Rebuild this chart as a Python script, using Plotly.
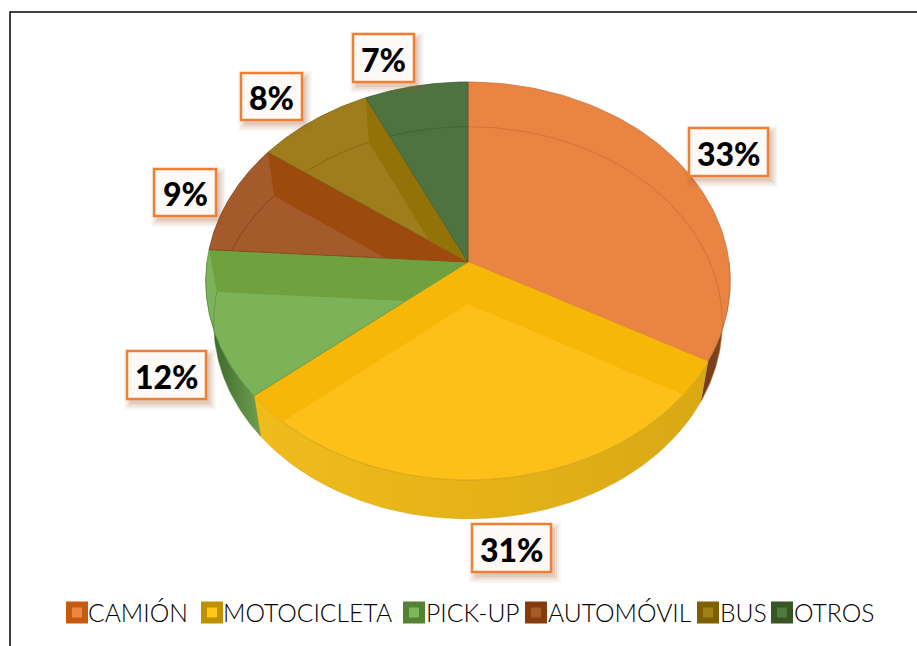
import numpy as np
import plotly.graph_objects as go

categories = ["CAMIÓN", "MOTOCICLETA", "PICK-UP", "AUTOMÓVIL", "BUS", "OTROS"]
values = [33, 31, 12, 9, 8, 7]

face_colors = ["#E98442", "#FDC018", "#7CB358", "#A45A2A", "#A07D1C", "#4E7340"]
band_colors = ["#E98442", "#F7B708", "#6FA23E", "#9C4A0E", "#937208", "#4E7340"]
edge_colors = ["#C9703A", "#D3A21E", "#5F8F45", "#7E431C", "#7A6318", "#3F5F34"]
swatch_border = ["#C55A11", "#BF9000", "#548235", "#843C0C", "#7F6000", "#375623"]
swatch_fill = ["#ED8843", "#FFC61A", "#7FB85A", "#A55A2C", "#A08018", "#4E7A3E"]
wall_stops = [
    ("#8A4A22", "#6E3A1C"),
    ("#D9A814", "#F0BC1C"),
    ("#6E9F50", "#36602A"),
    ("#7E431C", "#7E431C"),
    ("#7A6318", "#7A6318"),
    ("#3F5F34", "#3F5F34"),
]

# layout of the projected pie (pixels of the 917x646 canvas)
CX, CY, A, B, K = 468.0, 262.0, 261.0, 197.2, 0.0955
DEPTH, SX, SY = 42.0, 0.97, 0.985

label_boxes = [(689, 128, 768, 176), (472, 524, 551, 572), (127, 351, 206, 399),
               (154, 169, 216, 216), (241, 73, 302, 120), (353, 34, 414, 82)]
legend_swatch_x = [77, 212, 414, 536, 708, 782]
legend_text_x = [86, 221, 424, 546, 718, 792]
LEGEND_Y = 612


def top(t):
    t = np.radians(t)
    u, v = np.sin(t), np.cos(t)
    d = 1 + K * v
    return CX + A * u / d, CY - B * v / d


def bot(t):
    x, y = top(t)
    return CX + (x - CX) * SX, CY + DEPTH + (y - CY) * SY


def clip(poly, hull):
    """Clip a polygon against a convex polygon (Sutherland-Hodgman)."""
    area = sum(hull[i][0] * hull[(i + 1) % len(hull)][1] - hull[(i + 1) % len(hull)][0] * hull[i][1]
               for i in range(len(hull)))
    sign = 1 if area > 0 else -1
    out = list(poly)
    for i in range(len(hull)):
        a, b = hull[i], hull[(i + 1) % len(hull)]
        side = lambda p: sign * ((b[0] - a[0]) * (p[1] - a[1]) - (b[1] - a[1]) * (p[0] - a[0]))
        src, out = out, []
        for j in range(len(src)):
            p, q = src[j], src[(j + 1) % len(src)]
            sp, sq = side(p), side(q)
            if sp >= 0:
                out.append(p)
            if (sp >= 0) != (sq >= 0):
                r = sp / (sp - sq)
                out.append((p[0] + r * (q[0] - p[0]), p[1] + r * (q[1] - p[1])))
        if not out:
            break
    return out


fig = go.Figure()


def poly(points, fill, line=None, width=0, gradient=None):
    xs = [p[0] for p in points] + [points[0][0]]
    ys = [p[1] for p in points] + [points[0][1]]
    kw = dict(fillgradient=gradient) if gradient else dict(fillcolor=fill)
    fig.add_trace(go.Scatter(x=xs, y=ys, mode="lines", fill="toself", hoverinfo="skip",
                             line=dict(color=line or fill, width=width), showlegend=False, **kw))


shares = np.array(values) / sum(values) * 360
ends = np.cumsum(shares)
starts = ends - shares

# outer walls (front half only)
for i, (s, e) in enumerate(zip(starts, ends)):
    a0, a1 = max(s, 90), min(e, 270)
    if a1 <= a0:
        continue
    ts = np.linspace(a0, a1, 60)
    pts = [top(t) for t in ts] + [bot(t) for t in ts[::-1]]
    c0, c1 = wall_stops[i]
    grad = dict(type="horizontal", colorscale=[[0, c1], [1, c0]])
    poly(pts, c0, line=edge_colors[i], width=0.6, gradient=grad)

# top faces, seen-through inner rim, seen-through radial walls
for i, (s, e) in enumerate(zip(starts, ends)):
    ts = np.linspace(s, e, 80)
    wedge = [(CX, CY)] + [top(t) for t in ts]
    poly(wedge, face_colors[i], line=edge_colors[i], width=0.8)

    # inner rim line
    arc = [bot(t) for t in np.linspace(s, e, 120)]
    inside = []
    for p in arc:
        kept = clip([p, (p[0] + 0.01, p[1]), (p[0], p[1] + 0.01)], wedge)
        inside.append(p if len(kept) >= 3 else (None, None))
    fig.add_trace(go.Scatter(x=[p[0] for p in inside], y=[p[1] for p in inside], mode="lines",
                             hoverinfo="skip", showlegend=False,
                             line=dict(color=edge_colors[i], width=0.8)))

    for ang in (s, e):
        band = [(CX, CY), top(ang), bot(ang), (CX, CY + DEPTH)]
        piece = clip(band, wedge)
        if len(piece) >= 3:
            poly(piece, band_colors[i])

# soft shadows and boxes for the data labels
shapes = [dict(type="rect", x0=10, y0=12, x1=930, y1=660, line=dict(color="#000000", width=1.5),
               fillcolor="rgba(0,0,0,0)", layer="above")]
annotations = []
for box, v in zip(label_boxes, values):
    x0, y0, x1, y1 = box
    for grow, alpha in ((6, 0.05), (4, 0.07), (2, 0.09), (0, 0.12)):
        shapes.append(dict(type="rect", x0=x0 + 3 - grow, y0=y0 + 4 - grow, x1=x1 + 4 + grow, y1=y1 + 5 + grow,
                           line=dict(width=0), fillcolor=f"rgba(150,80,30,{alpha})", layer="above"))
    shapes.append(dict(type="rect", x0=x0, y0=y0, x1=x1, y1=y1, fillcolor="#FDF9F7",
                       line=dict(color="#F07F32", width=2.5), layer="above"))
    annotations.append(dict(x=(x0 + x1) / 2, y=(y0 + y1) / 2 + 1, text=f"{v}%", showarrow=False,
                            font=dict(family="Lato", size=32, color="#000000", weight=900),
                            xanchor="center", yanchor="middle"))

# legend
fig.add_trace(go.Scatter(x=legend_swatch_x, y=[LEGEND_Y + 0.5] * 6, mode="markers", hoverinfo="skip", showlegend=False,
                         marker=dict(symbol="square", size=16, color=swatch_fill,
                                     line=dict(color=swatch_border, width=6))))
for name, x in zip(categories, legend_text_x):
    annotations.append(dict(x=x, y=LEGEND_Y, text=name, showarrow=False, xanchor="left", yanchor="middle",
                            font=dict(family="Lato", size=24.7, color="#000000", weight=300)))

fig.update_layout(
    width=917, height=646, autosize=False, margin=dict(l=0, r=0, t=0, b=0),
    paper_bgcolor="#FFFFFF", plot_bgcolor="#FFFFFF", showlegend=False,
    xaxis=dict(range=[0, 917], visible=False, fixedrange=True),
    yaxis=dict(range=[646, 0], visible=False, fixedrange=True),
    shapes=shapes, annotations=annotations,
)
fig.write_html("out.html", config={"displayModeBar": False},
               post_script="document.body.style.margin='0';document.documentElement.style.overflow='hidden';")
